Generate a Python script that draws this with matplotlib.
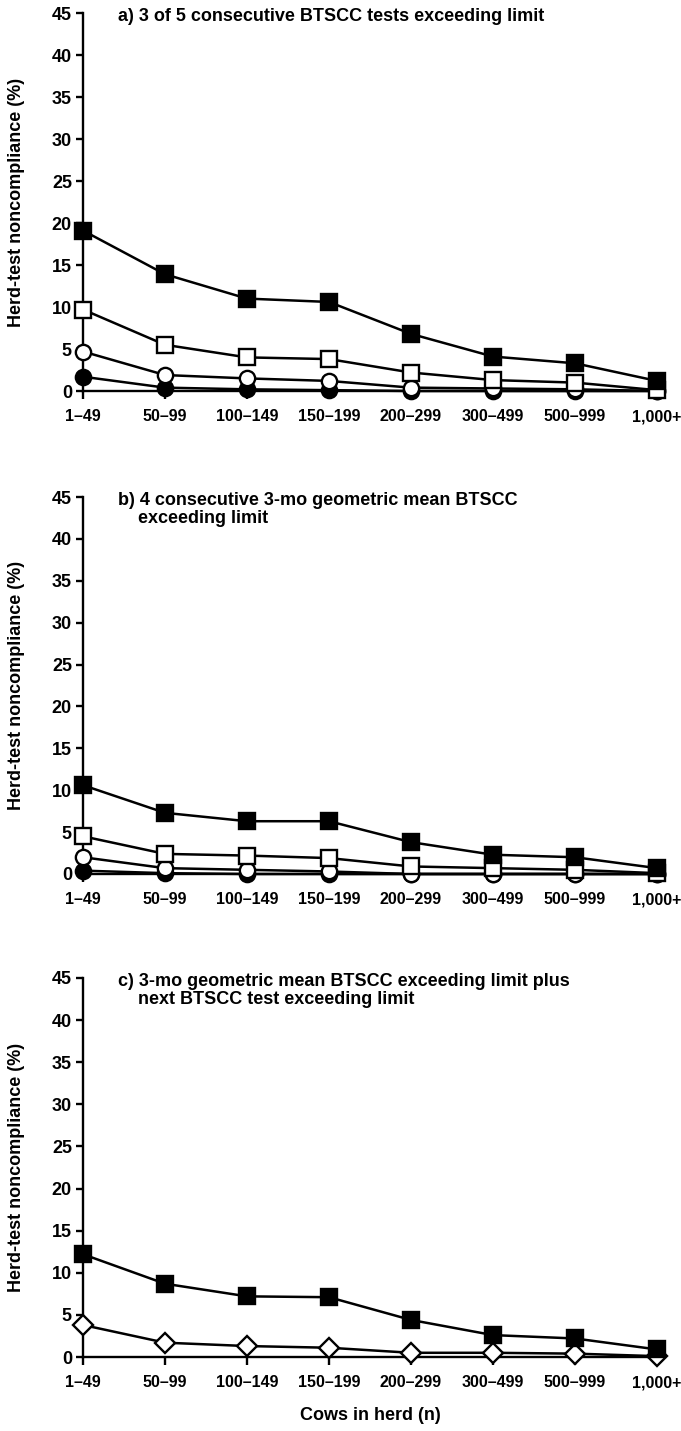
import matplotlib.pyplot as plt
import numpy as np

plt.rcParams['font.family'] = ['Liberation Sans', 'DejaVu Sans']
plt.rcParams['font.weight'] = 'bold'

herd_sizes = ['1\u201349', '50\u201399', '100\u2013149', '150\u2013199',
              '200\u2013299', '300\u2013499', '500\u2013999', '1,000+']

# panel a: 3 of 5 consecutive tests
a_filled_sq = [19.1, 13.9, 11.0, 10.6, 6.8, 4.1, 3.3, 1.2]
a_open_sq = [9.7, 5.5, 4.0, 3.8, 2.2, 1.3, 1.0, 0.1]
a_open_ci = [4.7, 1.9, 1.5, 1.2, 0.4, 0.3, 0.2, 0.0]
a_filled_ci = [1.7, 0.4, 0.2, 0.1, 0.0, 0.0, 0.0, 0.0]

# panel b: 4 consecutive 3-mo geometric means
b_filled_sq = [10.6, 7.3, 6.3, 6.3, 3.8, 2.3, 2.0, 0.7]
b_open_sq = [4.5, 2.4, 2.2, 1.9, 0.9, 0.7, 0.5, 0.1]
b_open_ci = [2.0, 0.7, 0.5, 0.3, 0.0, 0.0, 0.0, 0.0]
b_filled_ci = [0.4, 0.1, 0.0, 0.0, 0.0, 0.0, 0.0, 0.0]

# panel c: 3-mo geometric mean plus next test
c_filled_sq = [12.2, 8.7, 7.2, 7.1, 4.4, 2.6, 2.2, 0.9]
c_open_di = [3.8, 1.7, 1.3, 1.1, 0.5, 0.5, 0.4, 0.1]

titles = ['a) 3 of 5 consecutive BTSCC tests exceeding limit',
          'b) 4 consecutive 3-mo geometric mean BTSCC\n    exceeding limit',
          'c) 3-mo geometric mean BTSCC exceeding limit plus\n    next BTSCC test exceeding limit']

x = np.arange(len(herd_sizes))
W, H = 681, 1431
fig = plt.figure(figsize=(W / 100, H / 100), dpi=100)

# pixel boxes: (top, bottom) of y axis for each panel
boxes = [(13, 391), (497, 874), (978, 1357)]
left, right = 83, 657

def draw(ax, y, marker, face, ms=11):
    ax.plot(x, y, color='black', lw=1.8, marker=marker, ms=ms,
            mfc=face, mec='black', mew=1.7, clip_on=False, zorder=3)

panels = [
    [(a_filled_ci, 'o', 'black'), (a_open_ci, 'o', 'white'),
     (a_open_sq, 's', 'white'), (a_filled_sq, 's', 'black')],
    [(b_filled_ci, 'o', 'black'), (b_open_ci, 'o', 'white'),
     (b_open_sq, 's', 'white'), (b_filled_sq, 's', 'black')],
    [(c_open_di, 'D', 'white'), (c_filled_sq, 's', 'black')],
]

for i, (top, bot) in enumerate(boxes):
    ax = fig.add_axes([left / W, 1 - bot / H, (right - left) / W, (bot - top) / H])
    for y, m, f in panels[i]:
        draw(ax, y, m, f, ms=10 if m == 'D' else 11)
    ax.set_xlim(0, 7)
    ax.set_ylim(0, 45)
    ax.set_yticks(range(0, 50, 5))
    ax.set_xticks(x)
    ax.set_xticklabels(herd_sizes)
    for s in ['top', 'right']:
        ax.spines[s].set_visible(False)
    for s in ['left', 'bottom']:
        ax.spines[s].set_linewidth(1.7)
    ax.tick_params(axis='y', direction='out', length=5, width=1.7, labelsize=13, pad=3)
    ax.tick_params(axis='x', direction='out', length=6, width=1.7, labelsize=11.5, pad=7)
    ax.set_ylabel('Herd-test noncompliance (%)', fontsize=13, fontweight='bold')
    ax.yaxis.set_label_coords((25 - left) / (right - left), 0.5)
    fig.text(118 / W, 1 - (top - 5) / H, titles[i], fontsize=13,
             fontweight='bold', va='top', ha='left', linespacing=1.1)
    if i == 2:
        ax.set_xlabel('Cows in herd (n)', fontsize=13, fontweight='bold', labelpad=12)

fig.savefig('out.png', dpi=100)
